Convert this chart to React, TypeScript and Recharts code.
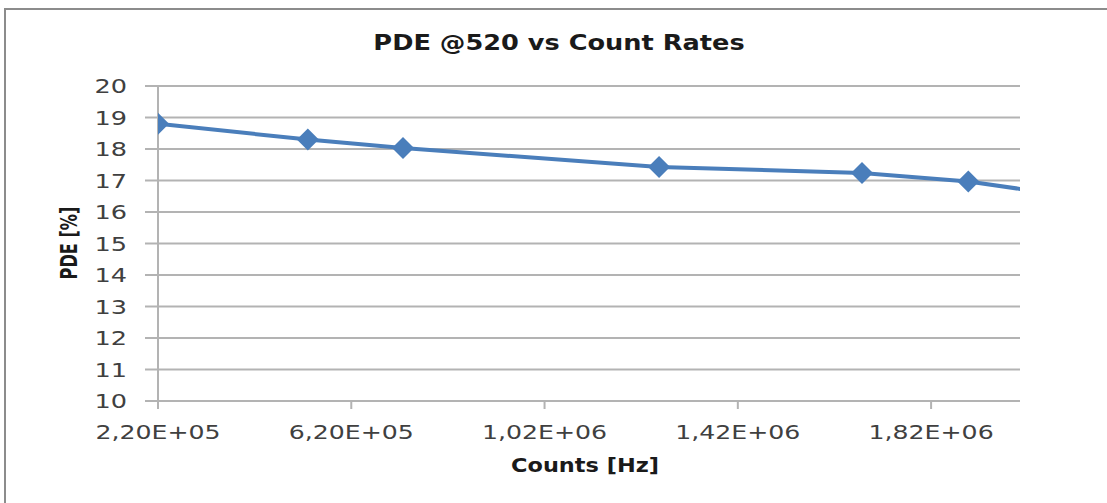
import React from 'react';
import { LineChart, Line, XAxis, YAxis, CartesianGrid } from 'recharts';

const counts = [220000, 530000, 727000, 1257000, 1677000, 1897000, 2100000];
const pde = [18.8, 18.3, 18.03, 17.43, 17.24, 16.97, 16.52];
const xTicks = [220000, 620000, 1020000, 1420000, 1820000];
const yTicks = [10, 11, 12, 13, 14, 15, 16, 17, 18, 19, 20];

const data = counts.map((c, i) => ({ counts: c, pde: pde[i] }));

const BLUE = '#4A7EBB';
const GRID = '#B3B3B3';
const TEXT = '#404040';
const FONT = 'DejaVu Sans';

// 2.2e5 -> "2,20E+05"
const fmtSci = (v: number) => {
  const [m, e] = v.toExponential(2).split('e');
  return `${m.replace('.', ',')}E${e[0]}${e.slice(1).padStart(2, '0')}`;
};

const Diamond = (props: any) => {
  const { cx, cy } = props;
  if (cx == null || cy == null) return null;
  return (
    <polygon
      points={`${cx},${cy - 11} ${cx + 11},${cy} ${cx},${cy + 11} ${cx - 11},${cy}`}
      fill={BLUE}
    />
  );
};

// the source chart has horizontally stretched text
const XTick = (p: any) => (
  <g transform={`translate(${p.x},${p.y})`}>
    <text transform="scale(1.26,1)" textAnchor="middle" dy="0.71em" fill={TEXT} fontSize={20} fontFamily={FONT}>
      {fmtSci(p.payload.value)}
    </text>
  </g>
);

const YTick = (p: any) => (
  <g transform={`translate(${p.x},${p.y})`}>
    <text transform="scale(1.28,1)" textAnchor="end" dy="0.355em" fill={TEXT} fontSize={20} fontFamily={FONT}>
      {p.payload.value}
    </text>
  </g>
);

const titleStyle: React.CSSProperties = {
  position: 'absolute',
  textAlign: 'center',
  fontFamily: FONT,
  fontWeight: 'bold',
  color: '#1a1a1a',
  whiteSpace: 'nowrap',
};

export default function App() {
  return (
    <div style={{ position: 'absolute', left: 0, top: 0, width: 1107, height: 503, background: '#fff' }}>
      <div
        style={{
          position: 'absolute',
          left: 4,
          top: 8,
          right: 0,
          bottom: 0,
          borderTop: '2px solid #8c8c8c',
          borderLeft: '2px solid #8c8c8c',
        }}
      />
      <LineChart
        width={1107}
        height={503}
        data={data}
        margin={{ top: 86, right: 87, left: 0, bottom: 42 }}
      >
        <CartesianGrid vertical={false} stroke={GRID} strokeWidth={2} />
        <XAxis
          dataKey="counts"
          type="number"
          domain={[220000, 2004000]}
          allowDataOverflow
          ticks={xTicks}
          tick={<XTick />}
          tickSize={8}
          tickMargin={16}
          height={60}
          stroke={GRID}
          strokeWidth={2}
        />
        <YAxis
          type="number"
          domain={[10, 20]}
          ticks={yTicks}
          tick={<YTick />}
          tickSize={13}
          tickMargin={18}
          width={158}
          stroke={GRID}
          strokeWidth={2}
        />
        <Line
          dataKey="pde"
          stroke={BLUE}
          strokeWidth={4}
          isAnimationActive={false}
          dot={(p: any) => <Diamond key={p.index} {...p} />}
          activeDot={false}
        />
      </LineChart>
      <div style={{ ...titleStyle, left: 0, width: 1118, top: 31, fontSize: 21, transform: 'scaleX(1.22)' }}>
        PDE @520 vs Count Rates
      </div>
      <div style={{ ...titleStyle, left: 150, width: 870, top: 453, fontSize: 20, transform: 'scaleX(1.12)' }}>
        Counts [Hz]
      </div>
      <div
        style={{
          ...titleStyle,
          left: 68 - 60,
          top: 243 - 13,
          width: 120,
          height: 26,
          lineHeight: '26px',
          fontSize: 19,
          transform: 'rotate(-90deg) scale(0.85, 1.25)',
        }}
      >
        PDE [%]
      </div>
    </div>
  );
}
